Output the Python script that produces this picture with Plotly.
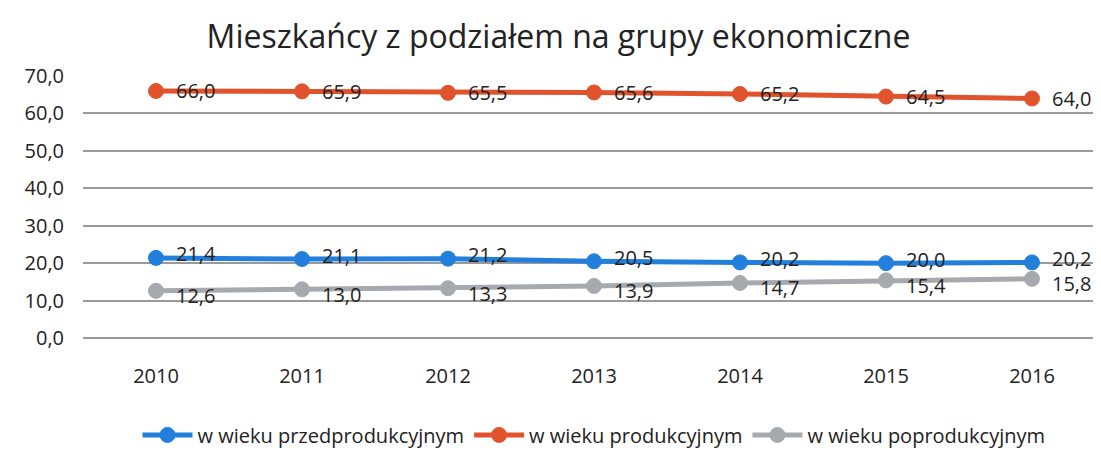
import plotly.graph_objects as go

years = ["2010", "2011", "2012", "2013", "2014", "2015", "2016"]
przed = [21.4, 21.1, 21.2, 20.5, 20.2, 20.0, 20.2]
prod = [66.0, 65.9, 65.5, 65.6, 65.2, 64.5, 64.0]
poprod = [12.6, 13.0, 13.3, 13.9, 14.7, 15.4, 15.8]

names = ["w wieku przedprodukcyjnym", "w wieku produkcyjnym", "w wieku poprodukcyjnym"]
colors = ["#2280dc", "#e0532c", "#a6a9ae"]
label_shift = [4, 0, -5]

def fmt(v):
    return f"{v:.1f}".replace(".", ",")

font_fam = "Open Sans, sans-serif"

fig = go.Figure()
for name, vals, col, sh in zip(names, [przed, prod, poprod], colors, label_shift):
    fig.add_trace(go.Scatter(
        x=years, y=vals, name=name, mode="lines+markers",
        line=dict(color=col, width=5),
        marker=dict(color=col, size=15, line=dict(color=col, width=1)),
        cliponaxis=False,
    ))
    for i, yv in enumerate(vals):
        fig.add_annotation(x=i, y=yv, xref="x", yref="y", text=fmt(yv), showarrow=False,
                           xanchor="left", yanchor="middle", xshift=18, yshift=sh,
                           font=dict(size=20, color="#222222", family=font_fam))

fig.update_layout(
    width=1101, height=450,
    paper_bgcolor="white", plot_bgcolor="white",
    separators=", ",
    title=dict(text="Mieszkańcy z podziałem na grupy ekonomiczne", x=0.5, xanchor="center",
               y=0.935, yanchor="middle",
               font=dict(size=32, color="#222222", family=font_fam)),
    margin=dict(l=75, r=4, t=68, b=108),
    font=dict(family=font_fam, color="#222222"),
    xaxis=dict(type="category", range=[-0.5, 6.5], showgrid=False, showline=False,
               tickfont=dict(size=20), ticks="", ticklabelstandoff=24),
    yaxis=dict(range=[0, 70], dtick=10, tickformat=".1f", showgrid=True,
               gridcolor="#9a9a9a", gridwidth=1.5, zeroline=True, zerolinecolor="#9a9a9a",
               zerolinewidth=1.5, tickfont=dict(size=20), ticks="", ticklabelstandoff=18,
               automargin=False),
    legend=dict(orientation="h", x=0.5, xanchor="center", y=-0.37, yanchor="middle",
                font=dict(size=20), itemwidth=50, traceorder="normal"),
    showlegend=True,
)
fig.write_html("out.html")
